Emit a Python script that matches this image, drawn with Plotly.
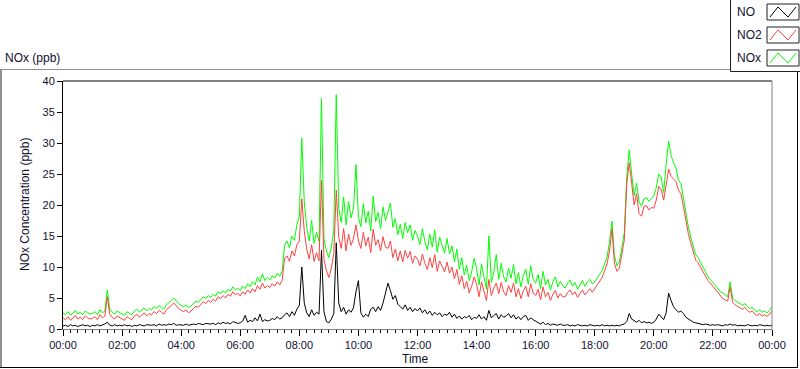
import pandas as pd
import plotly.graph_objects as go

# ---- data (5-minute readings, 00:00 .. 24:00) ----
times = pd.date_range("2000-01-01 00:00", "2000-01-02 00:00", freq="5min")

nox = [
    2.6, 2.3, 2.8, 2.2, 2.5, 3.0, 2.4, 2.7, 2.3, 2.9, 2.6, 2.4,
    2.5, 2.8, 2.3, 3.1, 2.6, 2.9, 6.3, 3.2, 2.7, 2.4, 2.9, 2.6,
    2.4, 2.2, 2.8, 2.5, 2.3, 2.9, 3.2, 2.7, 3.0, 3.4, 2.9, 3.3,
    3.1, 3.6, 3.3, 3.8, 3.5, 3.2, 3.9, 4.2, 4.6, 5.0, 4.5, 4.1,
    3.8, 3.6, 3.9, 3.4, 3.7, 4.1, 4.5, 4.3, 4.8, 5.2, 4.9, 5.4,
    5.1, 5.6, 5.3, 6.0, 5.7, 6.2, 5.8, 6.4, 6.1, 6.8, 6.3, 6.6,
    6.2, 6.9, 6.5, 7.3, 6.8, 7.6, 7.1, 8.4, 7.6, 8.9, 7.8, 8.3,
    7.9, 8.6, 8.2, 9.0, 8.5, 9.3, 13.5, 14.2, 13.1, 15.0, 14.3, 16.8,
    18.2, 30.8, 20.5, 16.4, 14.2, 17.5, 13.8, 15.6, 14.1, 37.2, 14.5, 12.6,
    11.5, 13.2, 16.0, 37.8, 19.5, 17.2, 21.3, 16.8, 20.6, 17.9, 19.4, 26.5,
    18.0, 16.5, 20.2, 17.1, 19.0, 15.8, 21.4, 17.3, 18.8, 16.2, 19.7, 17.5,
    18.9, 20.3, 16.4, 17.8, 15.2, 16.9, 14.6, 17.2, 15.5, 16.8, 14.3, 15.9,
    15.0, 13.6, 16.2, 14.1, 12.8, 15.3, 13.2, 16.0, 12.4, 14.8, 13.5, 12.2,
    14.6, 12.1, 13.4, 10.8, 12.9, 9.6, 11.5, 8.7, 10.3, 7.8, 9.2, 11.4,
    9.8, 7.1, 10.5, 8.3, 6.4, 15.0, 7.5, 9.2, 12.0, 8.0, 10.6, 8.4,
    7.6, 9.8, 8.2, 10.4, 7.3, 9.1, 6.8, 8.7, 9.6, 7.2, 10.2, 8.0,
    7.4, 8.8, 6.5, 9.3, 7.1, 8.0, 6.3, 7.6, 8.4, 6.8, 7.7, 7.0,
    6.6, 7.4, 7.9, 6.9, 7.5, 6.4, 7.2, 7.8, 6.9, 7.6, 8.0, 7.3,
    7.6, 8.2, 8.8, 9.4, 10.5, 11.6, 14.0, 17.4, 11.8, 10.2, 10.8, 13.5,
    15.5, 24.5, 28.9, 25.0, 21.5, 23.5, 20.5, 19.8, 21.0, 21.2, 20.6, 21.0,
    21.5, 22.8, 25.0, 24.5, 22.0, 26.5, 30.3, 28.0, 26.8, 26.0, 24.0, 23.5,
    21.0, 18.7, 16.5, 14.8, 13.2, 12.0, 11.5, 10.8, 10.0, 9.2, 8.4, 8.0,
    7.5, 7.0, 6.4, 6.0, 5.8, 5.5, 5.2, 7.6, 5.0, 4.6, 4.3, 4.0,
    3.8, 4.1, 3.6, 3.3, 3.5, 3.0, 2.8, 3.1, 2.7, 2.9, 2.6, 3.0,
    3.6,
]

no2 = [
    1.8, 1.5, 2.0, 1.4, 1.7, 2.2, 1.6, 1.9, 1.5, 2.1, 1.8, 1.6,
    1.7, 2.0, 1.5, 2.3, 1.8, 2.1, 5.2, 2.4, 1.9, 1.6, 2.1, 1.8,
    1.6, 1.4, 2.0, 1.7, 1.5, 2.1, 2.4, 1.9, 2.2, 2.6, 2.1, 2.5,
    2.3, 2.8, 2.5, 3.0, 2.7, 2.4, 3.1, 3.4, 3.8, 4.2, 3.7, 3.3,
    3.0, 2.8, 3.1, 2.6, 2.9, 3.3, 3.7, 3.5, 4.0, 4.4, 4.1, 4.6,
    4.3, 4.8, 4.5, 5.2, 4.9, 5.4, 5.0, 5.6, 5.3, 6.0, 5.5, 5.8,
    5.3, 6.0, 5.6, 6.3, 5.8, 6.5, 6.0, 7.0, 6.4, 7.4, 6.6, 7.0,
    6.7, 7.3, 6.9, 7.6, 7.1, 7.8, 11.4, 11.8, 10.9, 12.6, 11.8, 13.6,
    14.2, 21.0, 15.8, 12.9, 11.3, 13.6, 10.9, 12.3, 11.0, 24.0, 11.2, 9.4,
    8.3, 9.8, 12.2, 22.4, 14.8, 13.0, 16.2, 12.6, 15.3, 13.5, 14.6, 16.8,
    14.2, 13.0, 15.6, 13.4, 14.8, 12.3, 16.1, 13.5, 14.4, 12.6, 14.9, 13.2,
    13.0, 14.2, 11.5, 12.9, 11.0, 12.6, 10.8, 12.7, 11.4, 12.5, 10.6, 11.8,
    11.3, 10.2, 12.1, 10.6, 9.6, 11.5, 9.9, 12.0, 9.3, 11.0, 10.1, 9.2,
    10.8, 9.0, 10.0, 8.1, 9.6, 7.2, 8.6, 6.5, 7.7, 5.8, 6.9, 8.4,
    7.2, 5.2, 7.6, 6.0, 4.6, 8.0, 5.4, 6.6, 7.4, 5.7, 7.5, 6.0,
    5.4, 7.0, 5.9, 7.4, 5.2, 6.5, 4.9, 6.2, 6.9, 5.2, 7.3, 5.8,
    5.4, 6.4, 4.7, 6.8, 5.2, 5.9, 4.6, 5.6, 6.2, 5.0, 5.7, 5.2,
    5.2, 5.9, 6.3, 5.5, 6.0, 5.1, 5.8, 6.3, 5.5, 6.1, 6.5, 5.9,
    6.6, 7.1, 7.7, 8.3, 9.4, 10.5, 12.6, 16.2, 10.6, 9.3, 9.8, 12.2,
    14.3, 23.4, 26.8, 23.5, 20.0, 21.8, 18.6, 18.2, 19.8, 19.9, 19.2, 19.6,
    19.5, 20.8, 23.0, 22.5, 20.8, 23.2, 25.8, 24.6, 24.2, 23.8, 22.4, 21.8,
    19.8, 17.6, 15.4, 13.9, 12.3, 11.1, 10.7, 10.0, 9.3, 8.5, 7.8, 7.4,
    6.9, 6.4, 5.8, 5.3, 4.9, 4.7, 4.5, 6.8, 4.3, 3.9, 3.6, 3.4,
    3.2, 3.5, 3.0, 2.7, 2.9, 2.4, 2.2, 2.5, 2.1, 2.3, 2.0, 2.4,
    2.9,
]

no = [
    0.5, 0.6, 0.4, 0.7, 0.5, 0.6, 0.4, 0.5, 0.7, 0.5, 0.6, 0.4,
    0.6, 0.5, 0.7, 0.5, 0.6, 0.8, 1.1, 0.6, 0.5, 0.7, 0.5, 0.6,
    0.5, 0.7, 0.5, 0.6, 0.4, 0.6, 0.5, 0.7, 0.6, 0.5, 0.7, 0.6,
    0.6, 0.7, 0.5, 0.8, 0.6, 0.7, 0.6, 0.8, 0.7, 0.9, 0.6, 0.7,
    0.7, 0.6, 0.8, 0.6, 0.7, 0.8, 0.7, 0.9, 0.8, 0.7, 0.9, 0.8,
    0.8, 0.9, 0.7, 1.0, 0.8, 1.1, 0.9, 1.0, 0.8, 1.2, 1.0, 0.9,
    1.0, 1.3, 2.2, 1.1, 1.4, 1.2, 1.8, 1.3, 2.4, 1.2, 1.5, 1.3,
    1.4, 1.7, 1.5, 2.0, 1.6, 1.8, 2.3, 2.6, 2.0, 2.8, 2.2, 3.2,
    3.8, 10.0, 4.2, 2.6, 2.0, 3.1, 2.2, 2.7, 2.4, 12.7, 2.8, 1.2,
    1.0, 1.6, 2.5, 13.9, 4.2, 2.8, 3.5, 2.4, 3.1, 2.7, 3.4, 6.0,
    7.8, 2.6, 1.9, 2.4, 2.0, 3.2, 3.5, 2.8, 3.6, 3.0, 4.2, 5.6,
    7.4, 6.2, 4.8, 5.4, 4.0, 3.6, 3.2, 3.9, 3.0, 3.5, 2.8, 3.3,
    2.9, 3.4, 2.6, 3.1, 2.4, 2.9, 2.2, 2.7, 2.3, 2.6, 2.0, 2.4,
    2.2, 2.7, 1.9, 2.4, 1.7, 2.1, 1.6, 2.0, 1.8, 2.2, 1.5, 1.9,
    1.7, 2.3, 1.6, 2.0, 1.4, 3.0, 1.8, 2.2, 2.5, 1.6, 2.3, 1.9,
    2.1, 2.5, 1.8, 2.3, 1.6, 2.0, 1.5, 2.0, 2.2, 1.4, 1.8, 1.5,
    1.3, 1.0, 0.8, 1.1, 0.7, 0.9, 0.6, 0.8, 0.7, 0.6, 0.8, 0.6,
    0.6, 0.7, 0.5, 0.6, 0.5, 0.7, 0.6, 0.5, 0.6, 0.5, 0.7, 0.6,
    0.5, 0.6, 0.5, 0.7, 0.5, 0.6, 0.5, 0.6, 0.5, 0.6, 0.5, 0.7,
    0.8, 1.2, 2.5, 1.6, 1.3, 1.1, 1.4, 1.0, 1.2, 1.0, 1.1, 0.9,
    1.1, 1.6, 2.4, 2.0, 1.5, 2.6, 5.8, 4.6, 3.6, 3.1, 2.7, 2.9,
    2.5, 1.9, 1.6, 1.3, 1.1, 1.0, 0.9, 0.8, 0.7, 0.8, 0.7, 0.6,
    0.7, 0.6, 0.7, 0.6, 0.5, 0.7, 0.6, 0.8, 0.6, 0.7, 0.5, 0.6,
    0.6, 0.5, 0.7, 0.6, 0.5, 0.6, 0.5, 0.7, 0.6, 0.5, 0.6, 0.5,
    0.6,
]

series_names = ["NO", "NO2", "NOx"]
series_colors = ["#000000", "#ff4040", "#00ff00"]
y_ticks = [0, 5, 10, 15, 20, 25, 30, 35, 40]

# ---- figure ----
W, H = 800, 369
L, R, T, B = 63, 28, 81, 40
PW, PH = W - L - R, H - T - B


def px(x):
    return (x - L) / PW


def py(y):
    return (H - B - y) / PH


fig = go.Figure()
for name, vals, col in [("NOx", nox, series_colors[2]),
                        ("NO2", no2, series_colors[1]),
                        ("NO", no, series_colors[0])]:
    fig.add_trace(go.Scatter(x=times, y=vals, mode="lines", name=name,
                             line=dict(color=col, width=1), showlegend=False))

FONT = "Liberation Sans, Arial, sans-serif"
TXT = "#101030"

fig.update_layout(
    width=W, height=H,
    margin=dict(l=L, r=R, t=T, b=B, pad=0),
    paper_bgcolor="white", plot_bgcolor="white",
    font=dict(family=FONT, size=11, color=TXT),
    showlegend=False,
)
fig.update_xaxes(
    range=[times[0], times[-1]],
    tickmode="linear", tick0=times[0], dtick=2 * 3600 * 1000,
    tickformat="%H:%M",
    ticks="outside", ticklen=6, tickcolor="black",
    minor=dict(dtick=15 * 60 * 1000, ticks="outside", ticklen=3, tickcolor="black"),
    showgrid=False, zeroline=False,
    showline=True, linecolor="#808080", linewidth=1,
    tickfont=dict(size=11, color=TXT),
)
fig.update_yaxes(
    range=[0, 40], tickvals=y_ticks,
    ticks="outside", ticklen=5, tickcolor="black",
    showgrid=False, zeroline=False,
    showline=True, linecolor="black", linewidth=1,
    tickfont=dict(size=11, color=TXT),
)

shapes = []
# plot frame (top dark, right gray)
shapes.append(dict(type="line", xref="paper", yref="paper", x0=0, x1=1, y0=1, y1=1,
                   line=dict(color="black", width=1)))
shapes.append(dict(type="line", xref="paper", yref="paper", x0=1, x1=1, y0=0, y1=1,
                   line=dict(color="#808080", width=1)))
# outer panel
shapes.append(dict(type="line", xref="paper", yref="paper", x0=px(0), x1=px(731),
                   y0=py(69.5), y1=py(69.5), line=dict(color="#909090", width=1)))
shapes.append(dict(type="line", xref="paper", yref="paper", x0=px(1), x1=px(1),
                   y0=py(69.5), y1=py(368), line=dict(color="#909090", width=2)))
shapes.append(dict(type="line", xref="paper", yref="paper", x0=px(0), x1=px(798),
                   y0=py(367.5), y1=py(367.5), line=dict(color="black", width=1)))
shapes.append(dict(type="line", xref="paper", yref="paper", x0=px(797.5), x1=px(797.5),
                   y0=py(71.5), y1=py(368), line=dict(color="black", width=1)))
# legend box
shapes.append(dict(type="line", xref="paper", yref="paper", x0=px(730.5), x1=px(730.5),
                   y0=py(0), y1=py(71.5), line=dict(color="#202020", width=1)))
shapes.append(dict(type="line", xref="paper", yref="paper", x0=px(730.5), x1=px(800),
                   y0=py(71.5), y1=py(71.5), line=dict(color="#202020", width=1)))

annotations = []
box_tops = [4, 27, 50]
for i, (name, col) in enumerate(zip(series_names, series_colors)):
    top = box_tops[i]
    bot = top + 16
    x0, x1 = 767, 799
    shapes.append(dict(type="rect", xref="paper", yref="paper",
                       x0=px(x0), x1=px(x1), y0=py(bot), y1=py(top),
                       line=dict(color="#202020", width=1), fillcolor="white"))
    pts = [(x0 + 3, bot - 3), (x0 + 11, top + 3), (x0 + 21, bot - 3), (x0 + 29, top + 3)]
    path = "M " + " L ".join(f"{px(a):.5f},{py(b):.5f}" for a, b in pts)
    shapes.append(dict(type="path", xref="paper", yref="paper", path=path,
                       line=dict(color=col, width=1)))
    annotations.append(dict(text=name, xref="paper", yref="paper",
                            x=px(735), y=py((top + bot) / 2), xanchor="left", yanchor="middle",
                            showarrow=False, font=dict(size=12, family=FONT, color=TXT)))

annotations.append(dict(text="NOx (ppb)", xref="paper", yref="paper", x=px(3), y=py(58),
                        xanchor="left", yanchor="middle", showarrow=False,
                        font=dict(size=12, family=FONT, color=TXT)))
annotations.append(dict(text="NOx Concentration (ppb)", xref="paper", yref="paper",
                        x=px(25), y=0.5, textangle=-90, xanchor="center", yanchor="middle",
                        showarrow=False, font=dict(size=12, family=FONT, color=TXT)))
annotations.append(dict(text="Time", xref="paper", yref="paper", x=px(415), y=py(359),
                        xanchor="center", yanchor="middle", showarrow=False,
                        font=dict(size=12, family=FONT, color=TXT)))

fig.update_layout(shapes=shapes, annotations=annotations)
fig.write_html("out.html", config={"displayModeBar": False},
               post_script="document.body.style.margin='0';document.body.style.overflow='hidden';")
